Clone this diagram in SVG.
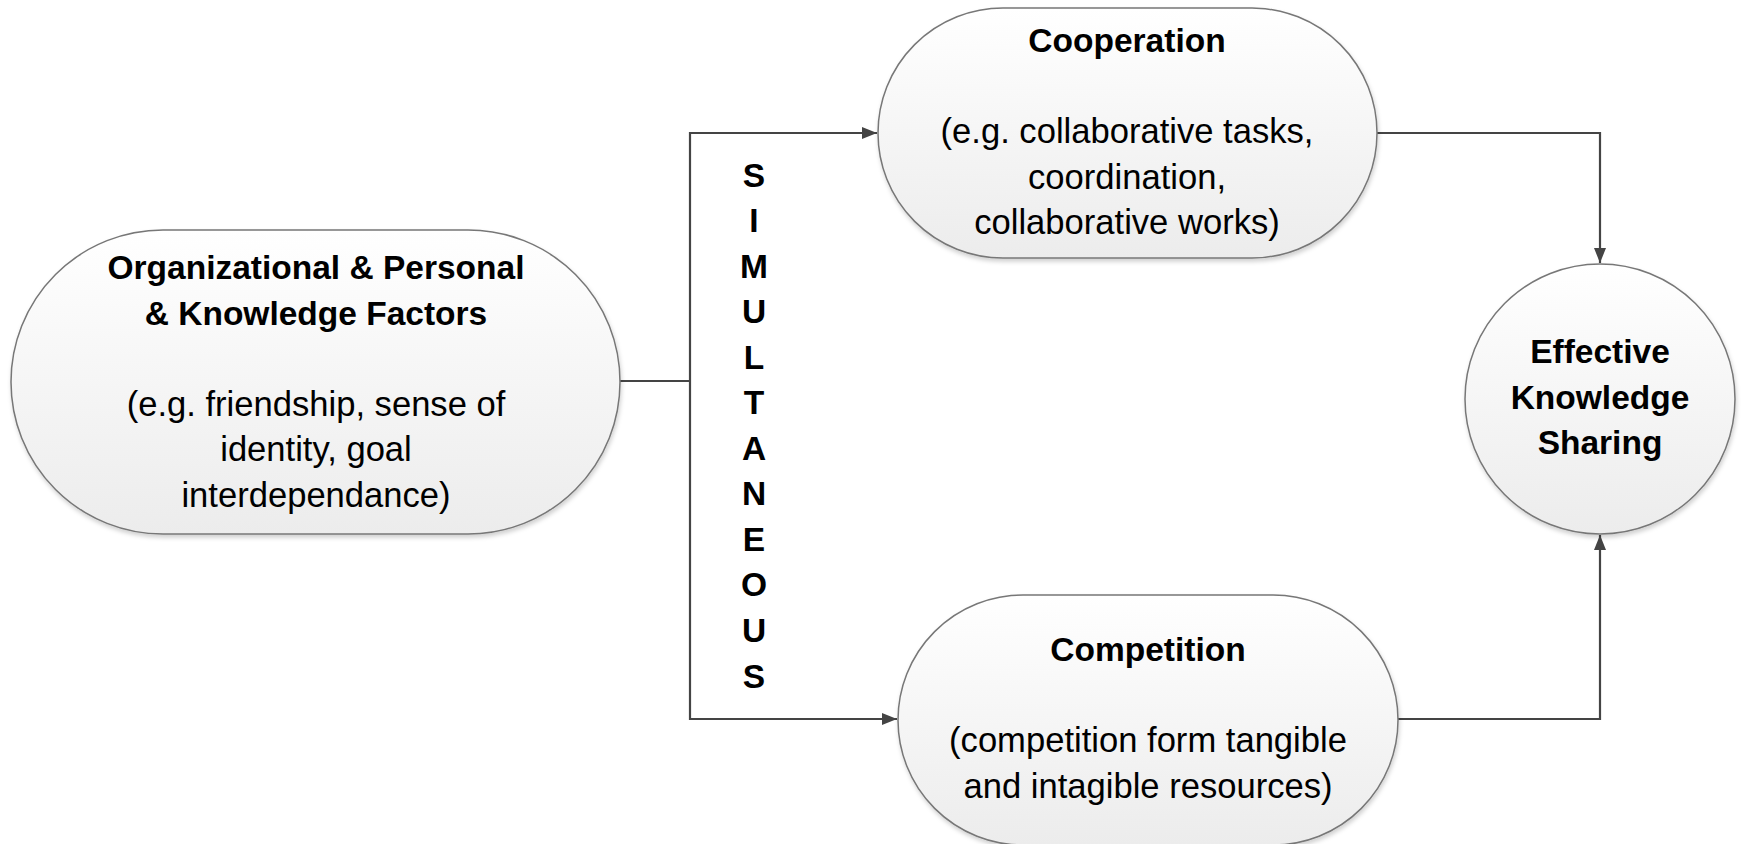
<svg xmlns="http://www.w3.org/2000/svg" width="1742" height="844" viewBox="0 0 1742 844">
<defs>
<linearGradient id="fill" x1="0" y1="0" x2="0" y2="1">
<stop offset="0" stop-color="#ffffff"/>
<stop offset="1" stop-color="#ececec"/>
</linearGradient>
<filter id="sh" x="-10%" y="-10%" width="120%" height="125%">
<feDropShadow dx="1" dy="3" stdDeviation="2" flood-color="#000" flood-opacity="0.18"/>
</filter>
<marker id="arr" viewBox="0 0 15 12" refX="15" refY="6" markerWidth="15" markerHeight="12" markerUnits="userSpaceOnUse" orient="auto">
<path d="M0,0 L15,6 L0,12 Z" fill="#444"/>
</marker>
</defs>
<style>
.node{fill:url(#fill);stroke:#777;stroke-width:1.5;filter:url(#sh)}
.t{font-family:"Liberation Sans",Arial,sans-serif;font-size:34.6px;fill:#000;text-anchor:middle}
.b{font-weight:bold;font-size:33.5px}
.c{fill:none;stroke:#444;stroke-width:2.2}
</style>
<rect width="1742" height="844" fill="#fff"/>
<g id="connectors">
<path class="c" d="M620,381 H690"/>
<path class="c" d="M690,381 V133 H877" marker-end="url(#arr)"/>
<path class="c" d="M690,381 V719 H897" marker-end="url(#arr)"/>
<path class="c" d="M1377,133 H1600 V263" marker-end="url(#arr)"/>
<path class="c" d="M1398,719 H1600 V535" marker-end="url(#arr)"/>
</g>
<g id="factors">
<rect class="node" x="11" y="230" width="609" height="304" rx="152" ry="152"/>
<text class="t b" x="316" y="279">Organizational &amp; Personal</text>
<text class="t b" x="316" y="324.5">&amp; Knowledge Factors</text>
<text class="t" x="316" y="415.7">(e.g. friendship, sense of</text>
<text class="t" x="316" y="461.2">identity, goal</text>
<text class="t" x="316" y="506.8">interdependance)</text>
</g>
<g id="simultaneous">
<text class="t b" x="754" y="186.5">S</text>
<text class="t b" x="754" y="232">I</text>
<text class="t b" x="754" y="277.6">M</text>
<text class="t b" x="754" y="323.1">U</text>
<text class="t b" x="754" y="368.7">L</text>
<text class="t b" x="754" y="414.2">T</text>
<text class="t b" x="754" y="459.8">A</text>
<text class="t b" x="754" y="505.3">N</text>
<text class="t b" x="754" y="550.9">E</text>
<text class="t b" x="754" y="596.4">O</text>
<text class="t b" x="754" y="642">U</text>
<text class="t b" x="754" y="687.5">S</text>
</g>
<g id="cooperation">
<rect class="node" x="878" y="8" width="499" height="250" rx="125" ry="125"/>
<text class="t b" x="1127" y="52">Cooperation</text>
<text class="t" x="1127" y="143">(e.g. collaborative tasks,</text>
<text class="t" x="1127" y="189">coordination,</text>
<text class="t" x="1127" y="234">collaborative works)</text>
</g>
<g id="competition">
<rect class="node" x="898" y="595" width="500" height="250" rx="125" ry="125"/>
<text class="t b" x="1148" y="661">Competition</text>
<text class="t" x="1148" y="752">(competition form tangible</text>
<text class="t" x="1148" y="797.5">and intagible resources)</text>
</g>
<g id="effective">
<circle class="node" cx="1600" cy="399" r="135"/>
<text class="t b" x="1600" y="363">Effective</text>
<text class="t b" x="1600" y="408.6">Knowledge</text>
<text class="t b" x="1600" y="454">Sharing</text>
</g>
</svg>
